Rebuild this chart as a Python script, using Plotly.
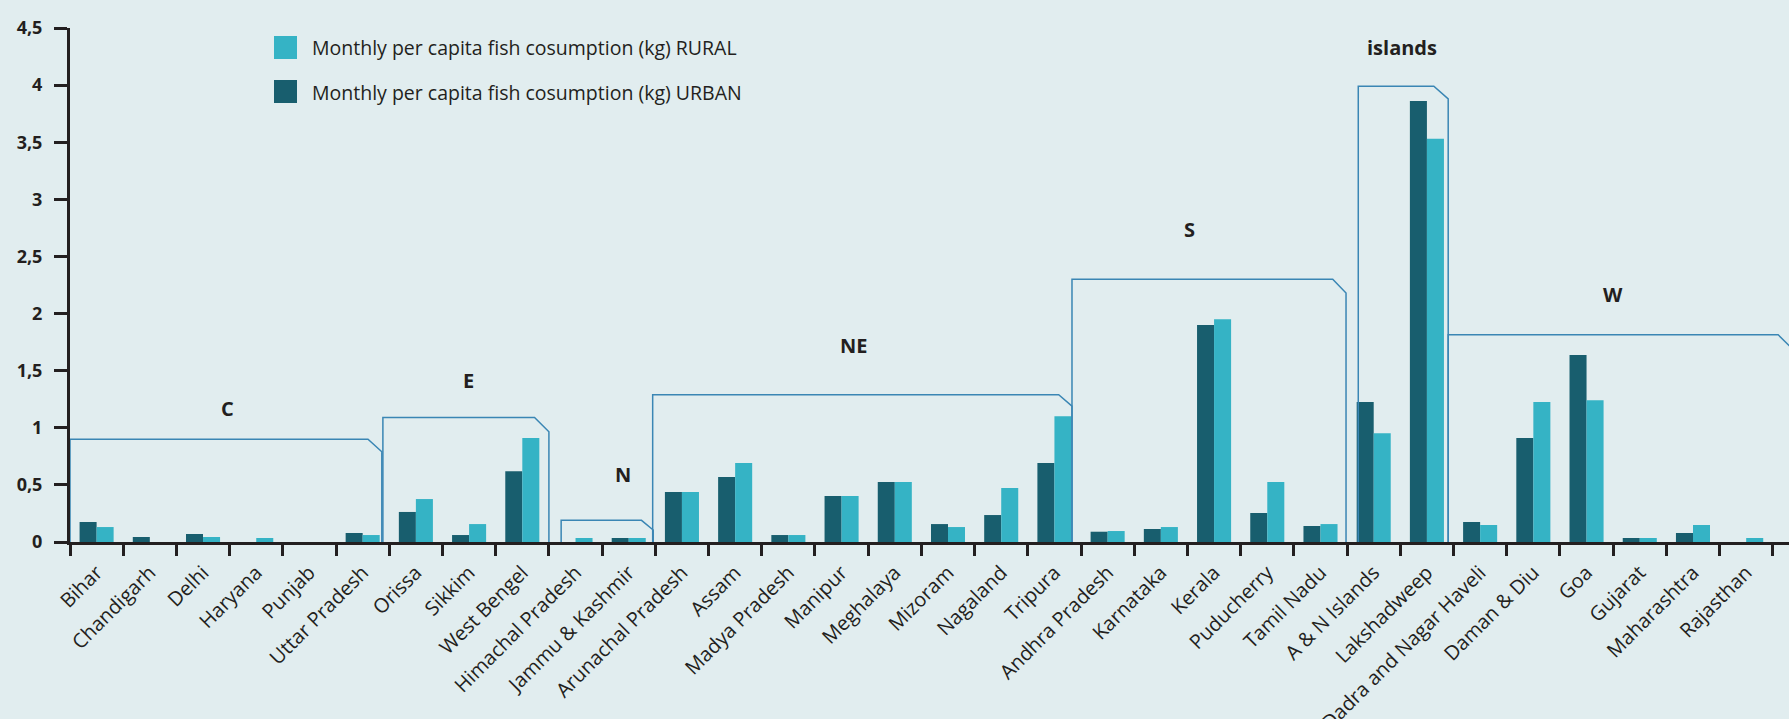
import plotly.graph_objects as go

# ---------------- data ----------------
states = ["Bihar", "Chandigarh", "Delhi", "Haryana", "Punjab", "Uttar Pradesh",
          "Orissa", "Sikkim", "West Bengel", "Himachal Pradesh", "Jammu & Kashmir",
          "Arunachal Pradesh", "Assam", "Madya Pradesh", "Manipur", "Meghalaya",
          "Mizoram", "Nagaland", "Tripura", "Andhra Pradesh", "Karnataka", "Kerala",
          "Puducherry", "Tamil Nadu", "A & N Islands", "Lakshadweep",
          "Dadra and Nagar Haveli", "Daman & Diu", "Goa", "Gujarat", "Maharashtra",
          "Rajasthan"]

urban = [0.175, 0.044, 0.07, 0.0, 0.0, 0.079,
         0.263, 0.061, 0.62, 0.0, 0.035,
         0.438, 0.569, 0.061, 0.403, 0.525,
         0.157, 0.236, 0.691, 0.09, 0.114, 1.90,
         0.254, 0.14, 1.225, 3.86,
         0.175, 0.91, 1.637, 0.035, 0.079,
         0.0]

rural = [0.131, 0.0, 0.044, 0.035, 0.0, 0.061,
         0.376, 0.157, 0.91, 0.035, 0.035,
         0.438, 0.691, 0.061, 0.403, 0.525,
         0.131, 0.472, 1.10, 0.096, 0.131, 1.95,
         0.525, 0.157, 0.953, 3.53,
         0.149, 1.225, 1.24, 0.035, 0.149,
         0.035]

y_ticks = [0, 0.5, 1, 1.5, 2, 2.5, 3, 3.5, 4, 4.5]
y_ticktext = ["0", "0,5", "1", "1,5", "2", "2,5", "3", "3,5", "4", "4,5"]

rural_name = "Monthly per capita fish cosumption (kg) RURAL"
urban_name = "Monthly per capita fish cosumption (kg) URBAN"

region_names = ["C", "E", "N", "NE", "S", "islands", "W"]

# ---------------- style ----------------
BG = "#e1edef"
DARK = "#185e6e"
LIGHT = "#35b3c5"
INK = "#231f20"
LINE = "#3a86b4"
FONT = "Open Sans"

W, H = 1789, 719
ML, MR, MT, MB = 70, 0, 28, 177
PW, PH = W - ML - MR, H - MT - MB


def px(x):
    return (x - ML) / PW


def py(y):
    return 1 - (y - MT) / PH


xs = list(range(len(states)))

fig = go.Figure()
fig.add_trace(go.Bar(x=xs, y=urban, name=urban_name, marker_color=DARK,
                     marker_line_width=0, showlegend=False))
fig.add_trace(go.Bar(x=xs, y=rural, name=rural_name, marker_color=LIGHT,
                     marker_line_width=0, showlegend=False))

# region brackets: (left, top, top-right end, right, chamfer bottom)
brackets = [
    (-0.5, 0.90, 5.10, 5.36, 0.79),
    (5.38, 1.09, 8.23, 8.50, 0.965),
    (8.73, 0.19, 10.24, 10.46, 0.105),
    (10.45, 1.29, 18.08, 18.33, 1.19),
    (18.33, 2.30, 23.23, 23.48, 2.18),
    (23.71, 3.99, 25.13, 25.40, 3.88),
    (25.40, 1.815, 31.60, 31.85, 1.70),
]
for (l, t, x1, r, y2) in brackets:
    path = f"M {l},0 L {l},{t} L {x1},{t} L {r},{y2} L {r},0"
    fig.add_shape(type="path", path=path, xref="x", yref="y",
                  line=dict(color=LINE, width=1.5), layer="above")

# region labels (data coords)
label_pos = [(2.46, 1.17), (6.99, 1.41), (9.9, 0.587), (14.22, 1.716),
             (20.53, 2.74), (24.53, 4.33), (28.5, 2.17)]
for name, (lx, ly) in zip(region_names, label_pos):
    fig.add_annotation(x=lx, y=ly, xref="x", yref="y", text=f"<b>{name}</b>",
                       showarrow=False,
                       font=dict(family=FONT, size=20, color=INK))

# manual legend
legend_items = [(rural_name, LIGHT, 36), (urban_name, DARK, 80)]
for name, col, ytop in legend_items:
    fig.add_shape(type="rect", xref="paper", yref="paper",
                  x0=px(274), x1=px(297), y0=py(ytop + 23), y1=py(ytop),
                  fillcolor=col, line_width=0)
    fig.add_annotation(xref="paper", yref="paper", x=px(310), y=py(ytop + 12),
                       xanchor="left", yanchor="middle", text=name,
                       showarrow=False,
                       font=dict(family=FONT, size=19.5, color=INK))

fig.update_layout(
    template="none",
    width=W, height=H,
    margin=dict(l=ML, r=MR, t=MT, b=MB, autoexpand=False),
    paper_bgcolor=BG, plot_bgcolor=BG,
    barmode="group", bargap=0.36, bargroupgap=0,
    font=dict(family=FONT, color=INK),
    showlegend=False,
)
fig.update_xaxes(
    automargin=False,
    range=[-0.5, (W - 97) / 53.2], tickmode="array", tickvals=xs, ticktext=states,
    tickangle=-45, ticks="", showgrid=False, zeroline=False,
    showline=True, linewidth=3, linecolor=INK,
    tickfont=dict(family=FONT, size=20, color=INK, weight=500),
    ticklabelstandoff=8,
    minor=dict(tickmode="array", tickvals=[i - 0.5 for i in range(len(states) + 1)],
               ticks="outside", ticklen=11, tickwidth=2.5, tickcolor=INK,
               showgrid=False),
)
fig.update_yaxes(
    automargin=False,
    range=[0, 4.5], tickmode="array", tickvals=y_ticks, ticktext=y_ticktext,
    ticks="outside", ticklen=13, tickwidth=3, tickcolor=INK,
    showline=True, linewidth=3, linecolor=INK, showgrid=False, zeroline=False,
    tickfont=dict(family=FONT, size=18, color=INK, weight="bold"),
    ticklabelstandoff=8,
)

fig.write_html(
    "out.html",
    config={"displayModeBar": False},
    post_script="document.body.style.margin='0';document.body.style.overflow='hidden';",
)
